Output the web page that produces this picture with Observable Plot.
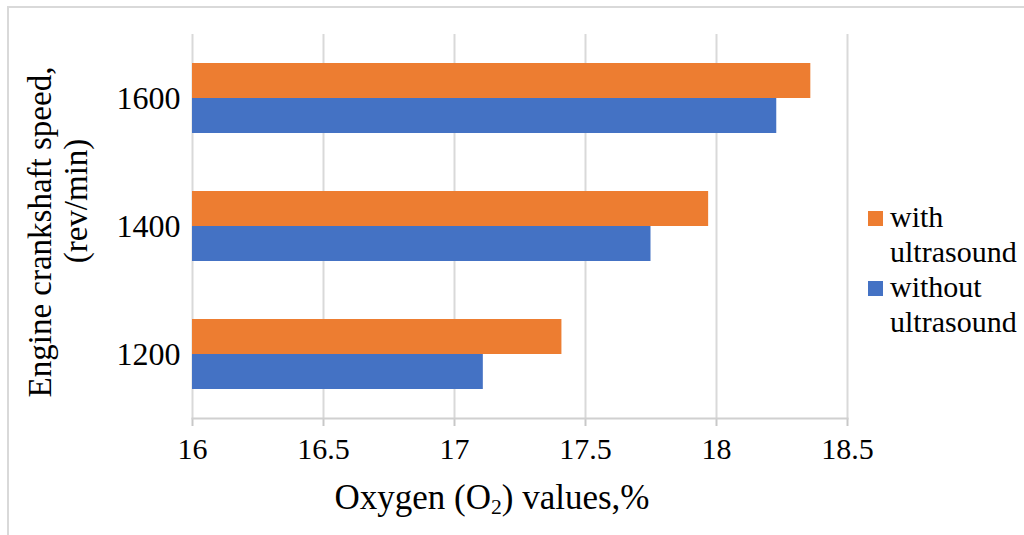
<!DOCTYPE html>
<html>
<head>
<meta charset="utf-8">
<script src="https://cdn.jsdelivr.net/npm/d3@7"></script>
<script src="https://cdn.jsdelivr.net/npm/@observablehq/plot@0.6"></script>
<style>
  html, body { margin: 0; padding: 0; background: #fff; }
  body { font-family: "Liberation Serif", serif; color: #000; }
  #chart { position: relative; width: 1024px; height: 535px; overflow: hidden; }
  #border { position: absolute; left: 7px; top: 6px; right: -4px; bottom: -4px;
            border-top: 2px solid #d9d9d9; border-left: 2px solid #d9d9d9; }
  #plot { position: absolute; left: 0; top: 0; }
  .ytitle { position: absolute; white-space: nowrap; font-size: 33px; line-height: 1;
            font-family: "Liberation Serif", serif;
            transform: translate(-50%, -50%) rotate(-90deg); }
  #xtitle { position: absolute; left: 492px; top: 480px; transform: translateX(-50%);
            font-family: "Liberation Serif", serif;
            white-space: nowrap; font-size: 35px; line-height: 1; }
  #xtitle sub { font-size: 0.62em; vertical-align: -0.25em; line-height: 0; }
  #legend { position: absolute; left: 860px; top: 195px; }
</style>
</head>
<body>
<div id="chart">
  <div id="border"></div>
  <div id="plot"></div>
  <div class="ytitle" style="left:40px; top:232px;">Engine crankshaft speed,</div>
  <div class="ytitle" style="left:76px; top:201px;">(rev/min)</div>
  <div id="xtitle">Oxygen (O<sub>2</sub>) values,%</div>
  <svg id="legend" width="164" height="150"></svg>
</div>
<script>
// Engine speeds (rev/min), top to bottom
const speeds = ["1600", "1400", "1200"];
// Series names and colours
const series = ["with ultrasound", "without ultrasound"];
const seriesLabels = [["with", "ultrasound"], ["without", "ultrasound"]];
const seriesColors = ["#ED7D31", "#4472C4"];
// Oxygen content, % (one value per speed)
const withUltrasound = [18.36, 17.97, 17.41];
const withoutUltrasound = [18.23, 17.75, 17.11];
// Value axis ticks
const xTicks = [16, 16.5, 17, 17.5, 18, 18.5];

const rows = [];
speeds.forEach((s, i) => {
  rows.push({speed: s, series: series[0], value: withUltrasound[i]});
  rows.push({speed: s, series: series[1], value: withoutUltrasound[i]});
});

const chart = Plot.plot({
  width: 1024,
  height: 535,
  marginLeft: 192,
  marginRight: 177,
  marginTop: 33,
  marginBottom: 116,
  style: {fontFamily: "'Liberation Serif', serif", fontSize: "30px", color: "#000", background: "transparent"},
  x: {domain: [xTicks[0], xTicks[xTicks.length - 1]], label: null},
  fy: {domain: speeds, padding: 0, label: null, axis: null},
  y: {domain: series, paddingInner: 0, paddingOuter: 0.79, axis: null},
  color: {domain: series, range: seriesColors},
  marks: [
    Plot.gridX(xTicks, {stroke: "#d9d9d9", strokeOpacity: 1, strokeWidth: 2}),
    Plot.barX(rows, {fy: "speed", y: "series", x1: xTicks[0], x2: "value", fill: "series"}),
    Plot.axisFy({anchor: "left", tickSize: 0, tickPadding: 12, label: null, fontSize: 32}),
    Plot.axisX(xTicks, {anchor: "bottom", tickSize: 8, tickPadding: 11, stroke: "#c8c8c8", strokeWidth: 2, fill: "#000", label: null, fontSize: 30, tickFormat: d => String(d)}),
    Plot.frame({anchor: "bottom", stroke: "#d0d0d0", strokeWidth: 2, facet: "super"})
  ]
});
document.getElementById("plot").appendChild(chart);

// Legend: a swatch per series with a two-line label
const lineH = 35;
const legend = d3.select("#legend");
series.forEach((s, i) => {
  const g = legend.append("g").attr("transform", `translate(0,${i * 2 * lineH})`);
  g.append("rect").attr("x", 8).attr("y", 16).attr("width", 15).attr("height", 15).attr("fill", seriesColors[i]);
  g.append("text")
    .attr("font-family", "Liberation Serif, serif")
    .attr("font-size", 30)
    .attr("fill", "#000")
    .selectAll("tspan")
    .data(seriesLabels[i])
    .join("tspan")
    .attr("x", 30)
    .attr("y", (d, j) => 32 + j * lineH)
    .text(d => d);
});
</script>
</body>
</html>
